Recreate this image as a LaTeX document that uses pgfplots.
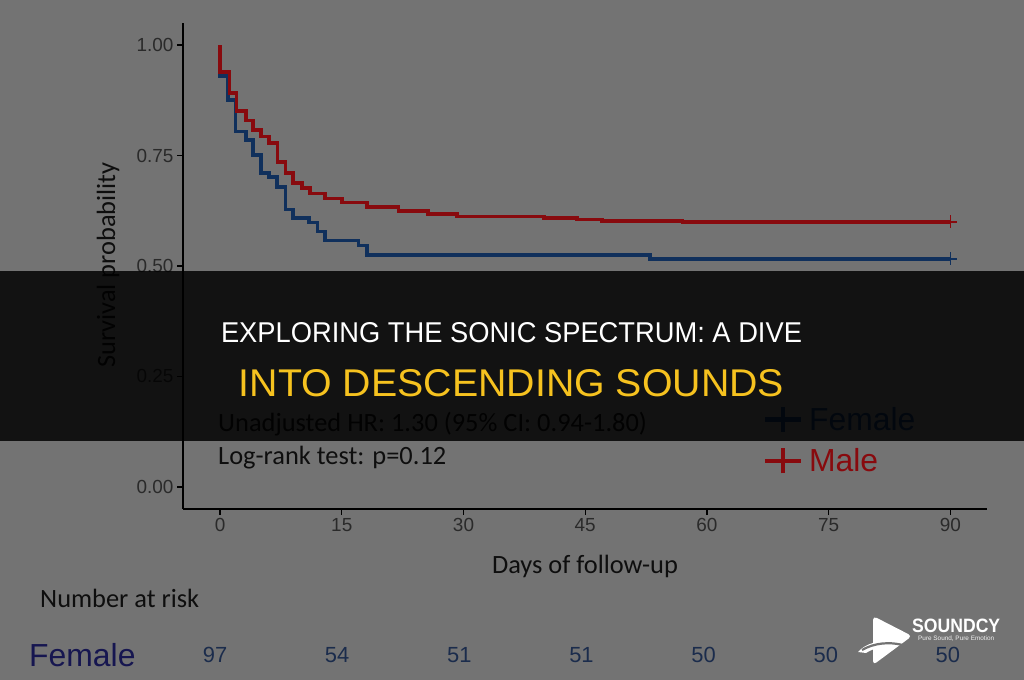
\documentclass[border=0pt]{standalone}
\usepackage{pgfplots}
\pgfplotsset{compat=1.18}
\usepackage{graphicx}
\usepackage{fontspec}
\setmainfont{Carlito}
\newfontfamily\arial{Liberation Sans}
\definecolor{bg}{HTML}{737373}
\definecolor{tickgray}{HTML}{2A2A2A}
\definecolor{labelblack}{HTML}{0E0E0E}
\definecolor{kmred}{HTML}{880A0E}
\definecolor{kmblue}{HTML}{10305C}
\definecolor{riskblue}{HTML}{1B2C4C}
\definecolor{femnavy}{HTML}{161650}
\definecolor{titleyellow}{HTML}{F6C21F}

\pgfplotsset{
  femleg/.style={legend image code/.code={\draw[kmblue, line width=4.5bp] (0bp,0bp) -- (36bp,0bp); \draw[kmblue, line width=4.5bp] (18bp,-12.5bp) -- (18bp,12.5bp);}},
  maleleg/.style={legend image code/.code={\draw[kmred, line width=4.5bp] (0bp,0bp) -- (36bp,0bp); \draw[kmred, line width=4.5bp] (18bp,-12.5bp) -- (18bp,12.5bp);}},
}

\pgfplotstableread{
x y
0 1.0
0 0.930
0.95 0.876
1.9 0.804
3.2 0.785
4.1 0.751
5.05 0.711
6.0 0.702
7.0 0.679
8.05 0.628
9.0 0.608
11.0 0.598
12.0 0.578
12.95 0.558
17.05 0.546
18.1 0.525
53.0 0.516
90.0 0.516
}\female

\pgfplotstableread{
x y
0 1.0
0 0.939
1.15 0.892
2.05 0.851
3.2 0.829
4.1 0.808
5.05 0.793
6.0 0.778
7.1 0.735
8.05 0.711
9.0 0.688
10.1 0.677
11.1 0.664
12.9 0.653
15.0 0.644
18.1 0.633
22.0 0.625
25.6 0.618
29.2 0.612
39.9 0.608
44.0 0.605
47.1 0.602
57.0 0.600
90.0 0.600
}\male

\pgfplotstableread{
x y n
0 25 97
15 25 54
30 25 51
45 25 51
60 25 50
75 25 50
90 25 50
}\risk

\begin{document}
\begin{tikzpicture}[x=1bp,y=1bp]
\useasboundingbox (0,0) rectangle (1024,680);
\fill[bg] (0,0) rectangle (1024,680);

\begin{axis}[
  at={(183bp,171bp)}, anchor=south west, scale only axis,
  width=804bp, height=486bp,
  xmin=-4.56, xmax=94.5, ymin=-0.05, ymax=1.05,
  axis x line*=bottom, axis y line*=left,
  axis line style={line width=1.3bp, black},
  tick align=outside, major tick length=6bp,
  tick style={line width=1.3bp, black},
  xtick={0,15,...,90}, ytick={0,0.25,0.5,0.75,1},
  yticklabels={0.00,0.25,0.50,0.75,1.00},
  ticklabel style={font=\arial\fontsize{19}{19}\selectfont, text=tickgray},
  /pgf/number format/assume math mode=true,
  xlabel={Days of follow-up}, ylabel={Survival probability},
  every axis x label/.style={at={(axis description cs:0.5,-0.119)}, anchor=center,
    font=\fontsize{26.5}{26.5}\selectfont, text=labelblack},
  every axis y label/.style={at={(axis description cs:-0.0933,0.502)}, rotate=90, anchor=center,
    font=\fontsize{26.5}{26.5}\selectfont, text=labelblack},
  clip=false,
  legend style={at={(axis cs:66.82,0.106)}, anchor=west, draw=none, fill=none,
    inner sep=0pt, row sep=12bp, font=\arial\fontsize{32}{32}\selectfont,
    nodes={inner sep=0pt},
    /tikz/every odd column/.append style={column sep=6bp}},
  legend cell align=left,
]
\addplot[const plot, kmblue, line width=3.6bp, femleg] table[x=x,y=y] {\female};
\addlegendentry[text=kmblue]{Female}
\addplot[const plot, kmred, line width=3.6bp, maleleg] table[x=x,y=y] {\male};
\addlegendentry[text=kmred]{Male}
\addplot[only marks, mark=+, mark size=6.5bp, kmblue, line width=1.6bp, forget plot] coordinates {(90,0.516)};
\addplot[only marks, mark=+, mark size=6.5bp, kmred, line width=1.6bp, forget plot] coordinates {(90,0.600)};
\end{axis}

\begin{axis}[
  at={(183bp,0bp)}, anchor=south west, scale only axis,
  width=804bp, height=100bp,
  xmin=-3.93, xmax=94.8, ymin=0, ymax=100,
  hide axis, clip=false,
]
\addplot[draw=none, mark=none, nodes near coords, point meta=explicit symbolic,
  nodes near coords style={anchor=center, inner sep=0pt, font=\arial\fontsize{22}{22}\selectfont, text=riskblue}]
  table[x=x, y=y, meta=n] {\risk};
\end{axis}

% annotations
\node[anchor=west, inner sep=0pt, font=\fontsize{26.5}{26.5}\selectfont, text=labelblack] at (218,256) {Unadjusted HR: 1.30 (95\% CI: 0.94-1.80)};
\node[anchor=west, inner sep=0pt, font=\fontsize{26.5}{26.5}\selectfont, text=labelblack] at (218,222.5) {Log-rank test: p=0.12};
\node[anchor=west, inner sep=0pt, font=\fontsize{26.5}{26.5}\selectfont, text=labelblack] at (40,82) {Number at risk};
\node[anchor=west, inner sep=0pt, font=\arial\fontsize{32}{32}\selectfont, text=femnavy] at (29,25) {Female};

% banner
\fill[black, opacity=0.84] (0,239) rectangle (1024,409);
\node[anchor=base, inner sep=0pt, text=white] at (511.5,337) {\resizebox{581bp}{20bp}{\arial EXPLORING THE SONIC SPECTRUM: A DIVE}};
\node[anchor=base, inner sep=0pt, text=titleyellow] at (511.5,283) {\resizebox{545bp}{27bp}{\arial INTO DESCENDING SOUNDS}};

% logo
\fill[white, rounded corners=4bp] (873,64) -- (912,44) -- (873,15) -- cycle;
\fill[white] (858,28) .. controls (866,37) and (880,41) .. (896,37) .. controls (885,35) and (872,31) .. (866,27) -- cycle;
\draw[bg, line width=2.2bp] (862,30) .. controls (874,37) and (890,39) .. (906,34);
\node[anchor=base west, inner sep=0pt, text=white] at (912,47.5) {\resizebox{88bp}{13.5bp}{\arial\bfseries SOUNDCY}};
\node[anchor=base west, inner sep=0pt, text=white!90!bg] at (918,39.5) {\resizebox{76bp}{!}{\arial\fontsize{7}{7}\selectfont Pure Sound, Pure Emotion}};
\end{tikzpicture}
\end{document}
